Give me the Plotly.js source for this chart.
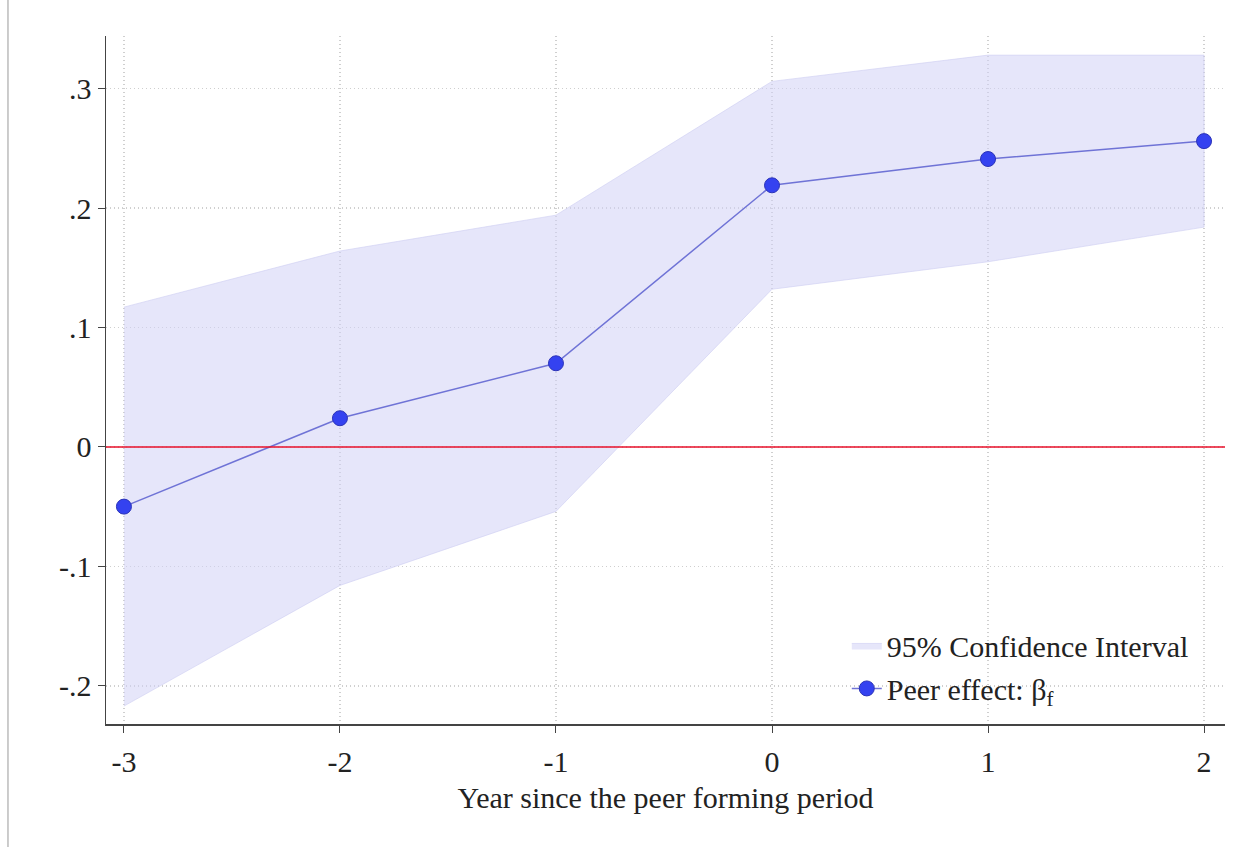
<!DOCTYPE html>
<html>
<head>
<meta charset="utf-8">
<script src="https://cdn.plot.ly/plotly-3.0.1.min.js"></script>
<style>html,body{margin:0;padding:0;background:#fff;}#chart{width:1250px;height:847px;}</style>
</head>
<body>
<div id="chart"></div>
<script>
var years = [-3, -2, -1, 0, 1, 2];
var peerEffect = [-0.050, 0.024, 0.070, 0.219, 0.241, 0.256];
var ciUpper = [0.117, 0.164, 0.194, 0.306, 0.328, 0.328];
var ciLower = [-0.217, -0.116, -0.054, 0.132, 0.155, 0.184];
var yTickVals = [-0.2, -0.1, 0, 0.1, 0.2, 0.3];
var yTickText = ['-.2', '-.1', '0', '.1', '.2', '.3'];
var xTickVals = [-3, -2, -1, 0, 1, 2];
var xTickText = ['-3', '-2', '-1', '0', '1', '2'];

var bandX = years.concat(years.slice().reverse());
var bandY = ciUpper.concat(ciLower.slice().reverse());

var font = 'Liberation Serif, Times New Roman, serif';

var traces = [
  {
    x: bandX, y: bandY, type: 'scatter', mode: 'lines', fill: 'toself',
    fillcolor: 'rgba(210,210,246,0.55)',
    line: {color: 'rgba(205,205,242,0.6)', width: 1},
    name: '95% Confidence Interval', legendgroup: 'a', hoverinfo: 'skip'
  },
  {
    x: years, y: peerEffect, type: 'scatter', mode: 'lines+markers',
    line: {color: '#6f73d6', width: 1.5},
    marker: {color: '#3442f0', size: 15, line: {color: '#2b33b8', width: 1}},
    name: 'Peer effect: β<sub>f</sub>', legendgroup: 'b'
  }
];

var layout = {
  width: 1250, height: 847,
  margin: {l: 106, r: 25, t: 36, b: 123},
  paper_bgcolor: '#fff', plot_bgcolor: '#fff',
  font: {family: font, size: 30, color: '#222'},
  showlegend: true,
  legend: {x: 0.662, y: 0.152, xanchor: 'left', yanchor: 'top', bgcolor: 'rgba(0,0,0,0)',
           font: {family: font, size: 30, color: '#222'}, tracegroupgap: 1},
  xaxis: {
    range: [-3.083, 2.097], tickvals: xTickVals, ticktext: xTickText,
    ticks: 'outside', ticklen: 7, tickcolor: '#444', tickwidth: 1,
    showline: true, linecolor: '#444', linewidth: 1.5,
    showgrid: true, gridcolor: '#cfcfcf', griddash: '1px,3px', gridwidth: 1.5,
    zeroline: false, ticklabelstandoff: 3,
    tickfont: {family: font, size: 30, color: '#222'},
    title: {text: 'Year since the peer forming period', font: {family: font, size: 30, color: '#222'}, standoff: 10}
  },
  yaxis: {
    range: [-0.232, 0.344], tickvals: yTickVals, ticktext: yTickText,
    ticks: 'outside', ticklen: 7, tickcolor: '#444', tickwidth: 1,
    showline: true, linecolor: '#444', linewidth: 1.5,
    showgrid: true, gridcolor: '#cfcfcf', griddash: '1px,3px', gridwidth: 1.5,
    zeroline: false,
    tickfont: {family: font, size: 30, color: '#222'}
  },
  shapes: [
    {type: 'line', xref: 'paper', yref: 'y', x0: 0, x1: 1, y0: 0, y1: 0,
     line: {color: '#e8102a', width: 1.5}},
    {type: 'line', xref: 'paper', yref: 'paper', x0: -0.0876, x1: -0.0876, y0: -0.18, y1: 1.053,
     line: {color: '#bbbbbb', width: 1.5}}
  ]
};

Plotly.newPlot('chart', traces, layout, {displayModeBar: false, staticPlot: true});
</script>
</body>
</html>
